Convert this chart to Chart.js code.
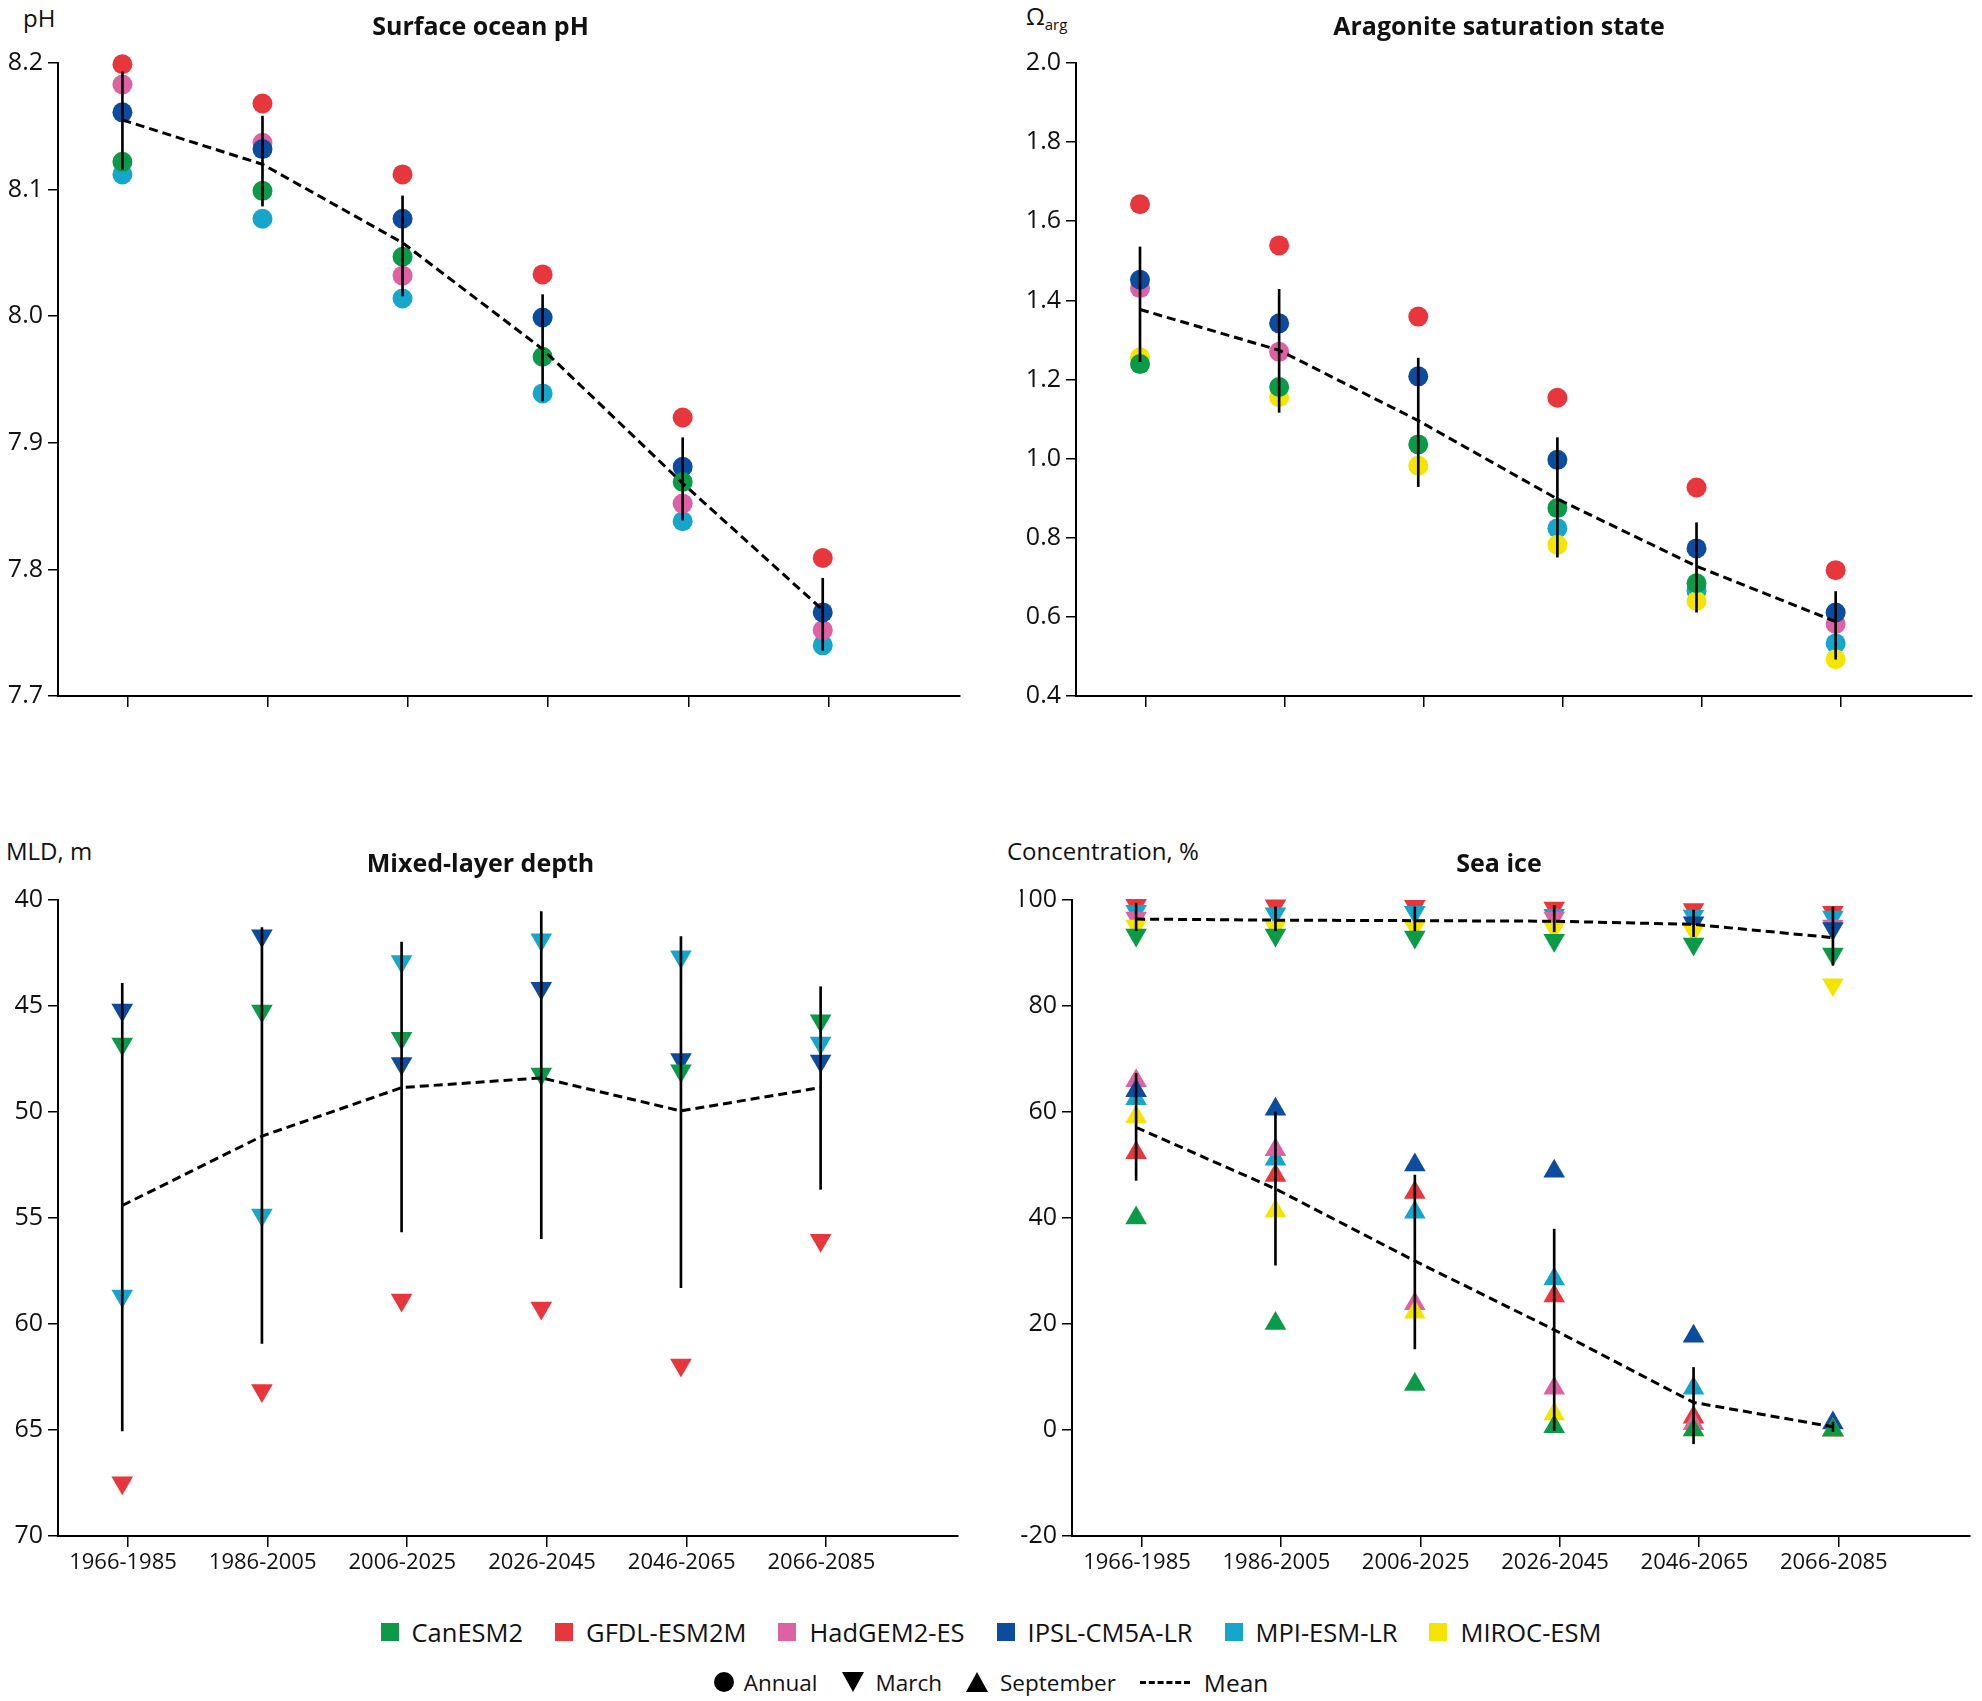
<!DOCTYPE html>
<html lang="en">
<head>
    <meta charset="UTF-8">
    <title>Ocean acidification, mixed layer and sea ice</title>
    <script src="https://cdn.jsdelivr.net/npm/chart.js"></script>
    <style>
        body { margin: 0; background: #fff; font-family: 'Open Sans', sans-serif; color: #111; }
        #page { position: relative; width: 1982px; height: 1701px; }
        canvas { position: absolute; }
        .unit { position: absolute; font-size: 24px; line-height: 28px; white-space: nowrap; }
        .unit sub { font-size: 15px; vertical-align: -5px; }
        .legend-row { position: absolute; left: 0; width: 1982px; display: flex; justify-content: center; align-items: center; height: 32px; }
        .legend-row .item { display: flex; align-items: center; }
        #modelLegend { font-size: 25.5px; }
        #modelLegend .item { margin: 0 16px; }
        #markerLegend { font-size: 22.5px; }
        #markerLegend .item { margin: 0 12px; }
        .sw { display: inline-block; width: 18px; height: 18px; margin-right: 13px; }
        .dot { display: inline-block; width: 20px; height: 20px; border-radius: 50%; background: #000; margin-right: 10px; }
        .tri-down { display: inline-block; width: 0; height: 0; border-left: 11px solid transparent; border-right: 11px solid transparent; border-top: 20px solid #000; margin-right: 12px; }
        .tri-up { display: inline-block; width: 0; height: 0; border-left: 11px solid transparent; border-right: 11px solid transparent; border-bottom: 20px solid #000; margin-right: 12px; }
        .dash { display: inline-block; width: 50px; border-top: 3px dashed #000; margin-right: 14px; }
        .big { font-size: 24.5px; }
    </style>
</head>
<body>
<div id="page">
    <div class="unit" style="left:23px; top:4px;">pH</div>
    <div class="unit" style="left:1026px; top:2px;">Ω<sub>arg</sub></div>
    <div class="unit" style="left:6px; top:837px;">MLD, m</div>
    <div class="unit" style="left:1007px; top:837px;">Concentration, %</div>

    <canvas id="phChart" width="970" height="716" style="left:0; top:0;"></canvas>
    <canvas id="aragChart" width="962" height="716" style="left:1020px; top:0;"></canvas>
    <canvas id="mldChart" width="970" height="756" style="left:0; top:830px;"></canvas>
    <canvas id="iceChart" width="962" height="756" style="left:1020px; top:830px;"></canvas>

    <div id="modelLegend" class="legend-row" style="top:1616px;"></div>
    <div id="markerLegend" class="legend-row" style="top:1666px;">
        <span class="item"><span class="dot"></span>Annual</span>
        <span class="item"><span class="tri-down"></span>March</span>
        <span class="item"><span class="tri-up"></span>September</span>
        <span class="item big"><span class="dash"></span>Mean</span>
    </div>
</div>

<script>
    // periods on the x axis
    const periods = ['1966-1985', '1986-2005', '2006-2025', '2026-2045', '2046-2065', '2066-2085'];
    const models = ['CanESM2', 'GFDL-ESM2M', 'HadGEM2-ES', 'IPSL-CM5A-LR', 'MPI-ESM-LR', 'MIROC-ESM'];
    const modelColors = ['#0b9a47', '#e8363d', '#de62a3', '#0b4c9f', '#16a6cc', '#f4e400'];
    const modelLayer = [1, 6, 4, 3, 5, 2]; // higher = drawn further back

    // surface ocean pH (annual), one row per model, null = not shown
    const phValues = [
        [8.122, 8.099, 8.047, 7.968, 7.869, null],
        [8.199, 8.168, 8.112, 8.033, 7.920, 7.809],
        [8.183, 8.137, 8.032, null, 7.852, 7.752],
        [8.161, 8.132, 8.077, 7.999, 7.881, 7.766],
        [8.112, 8.077, 8.014, 7.939, 7.838, 7.740],
        [null, null, null, null, null, null]
    ];
    const phMean = [8.155, 8.120, 8.058, 7.974, 7.868, 7.768];
    const phLow = [8.116, 8.087, 8.016, 7.933, 7.839, 7.736];
    const phHigh = [8.193, 8.158, 8.095, 8.017, 7.904, 7.793];

    // aragonite saturation state (annual)
    const aragValues = [
        [1.239, 1.181, 1.036, 0.875, 0.685, null],
        [1.643, 1.539, 1.359, 1.154, 0.927, 0.718],
        [1.431, 1.270, null, null, null, 0.582],
        [1.452, 1.342, 1.208, 0.997, 0.773, 0.611],
        [null, null, null, 0.824, 0.666, 0.533],
        [1.256, 1.155, 0.982, 0.782, 0.640, 0.493]
    ];
    const aragMean = [1.377, 1.274, 1.096, 0.898, 0.728, 0.588];
    const aragLow = [1.245, 1.117, 0.929, 0.751, 0.612, 0.493];
    const aragHigh = [1.535, 1.428, 1.254, 1.053, 0.838, 0.664];

    // mixed-layer depth (March), m
    const mldValues = [
        [46.79, 45.24, 46.52, 48.21, 48.05, 45.69],
        [67.49, 63.14, 58.87, 59.25, 61.93, 56.05],
        [null, null, null, null, null, null],
        [45.19, 41.69, 47.71, 44.16, 47.52, 47.59],
        [58.68, 54.86, 42.90, 41.88, 42.68, 46.75],
        [null, null, null, null, null, null]
    ];
    const mldMean = [54.41, 51.14, 48.85, 48.39, 49.95, 48.85];
    const mldLow = [43.93, 41.30, 41.99, 40.55, 41.72, 44.09];
    const mldHigh = [65.04, 60.92, 55.66, 55.98, 58.29, 53.65];

    // sea ice concentration, March, %
    const iceMarchValues = [
        [93.4, 93.4, 93.0, 92.4, 91.7, 89.8],
        [99.0, 98.9, 98.8, 98.5, 98.2, 97.7],
        [96.6, null, null, 96.6, null, 95.1],
        [null, null, null, null, 95.7, 94.6],
        [97.9, 97.4, 97.7, 97.1, 97.0, 96.8],
        [95.1, 94.8, 94.8, 94.6, 94.1, 84.0]
    ];
    const iceMarchMean = [96.4, 96.2, 96.1, 96.0, 95.4, 92.9];
    const iceMarchLow = [94.2, 94.2, 94.2, 94.0, 93.1, 87.7];
    const iceMarchHigh = [99.4, 98.7, 98.7, 99.0, 98.1, 98.7];

    // sea ice concentration, September, %
    const iceSeptValues = [
        [40.0, 20.1, 8.6, 0.6, 0, 0],
        [52.3, 48.0, 44.8, 25.3, 2.4, 0],
        [65.9, 52.9, 23.8, 7.9, 1.2, 0],
        [64.0, 60.5, 50.0, 48.8, 17.7, 1.3],
        [62.5, 51.1, 41.1, 28.5, 7.9, 0],
        [59.1, 41.3, 22.2, 3.0, 0, 0]
    ];
    const iceSeptMean = [57.1, 45.5, 31.9, 18.9, 5.2, 0.6];
    const iceSeptLow = [47.1, 31.1, 15.3, -0.1, -2.6, -0.3];
    const iceSeptHigh = [67.3, 60.0, 48.1, 37.9, 11.8, 1.5];

    Chart.defaults.font.family = "'Open Sans', sans-serif";
    Chart.defaults.color = '#111';

    // tick marks sit between periods, a bit closer to the left of each slot
    const xMin = -0.46;
    const xMax = 5.98;
    const xBounds = periods.map((p, i) => i + xMin).concat(periods.length + xMin);

    function toPoints(values) {
        return values.map((v, i) => v == null ? null : { x: i, y: v }).filter(p => p);
    }

    function markerSets(rows, style, rotation, radius) {
        return rows.map((row, m) => ({
            type: 'scatter',
            label: models[m],
            data: toPoints(row),
            pointStyle: style,
            rotation: rotation,
            pointRadius: radius,
            backgroundColor: modelColors[m],
            borderWidth: 0,
            clip: false,
            order: modelLayer[m]
        }));
    }

    function meanLine(mean) {
        return {
            type: 'line',
            data: toPoints(mean),
            borderColor: '#000',
            borderWidth: 3,
            borderDash: [9, 5],
            pointRadius: 0,
            fill: false,
            tension: 0,
            clip: false,
            order: 0
        };
    }

    function errorBars(low, high) {
        return {
            type: 'bar',
            data: low.map((l, i) => ({ x: i, y: [l, high[i]] })),
            backgroundColor: '#000',
            borderWidth: 0,
            barThickness: 2,
            grouped: false,
            clip: false,
            order: 0
        };
    }

    function xAxis(showLabels, height) {
        return {
            type: 'linear',
            min: xMin,
            max: xMax,
            offset: false,
            afterBuildTicks: s => { s.ticks = xBounds.map(v => ({ value: v })); },
            afterFit: s => { s.height = height; s.paddingLeft = 0; s.paddingRight = 0; },
            grid: { drawOnChartArea: false, tickLength: 11, color: '#000', lineWidth: 1.5 },
            border: { color: '#000', width: 2 },
            ticks: {
                autoSkip: false,
                maxRotation: 0,
                labelOffset: 65,
                padding: 3,
                font: { size: 22 },
                callback: v => showLabels ? (periods[Math.round(v - xMin)] || '') : ''
            }
        };
    }

    function yAxis(min, max, step, decimals, width, reverse) {
        return {
            type: 'linear',
            min: min,
            max: max,
            reverse: reverse,
            afterFit: s => { s.width = width; },
            grid: { drawOnChartArea: false, tickLength: 10, color: '#000', lineWidth: 1.5 },
            border: { color: '#000', width: 2 },
            ticks: {
                stepSize: step,
                padding: 5,
                font: { size: 25 },
                callback: v => v.toFixed(decimals)
            }
        };
    }

    function drawPanel(canvasId, title, datasets, x, y, padding) {
        new Chart(document.getElementById(canvasId), {
            type: 'scatter',
            data: { datasets: datasets },
            options: {
                responsive: false,
                animation: false,
                layout: { padding: { left: padding.left, right: padding.right, top: 0, bottom: 0 } },
                plugins: {
                    legend: { display: false },
                    tooltip: { enabled: false },
                    title: {
                        display: true,
                        text: title,
                        font: { size: 25, weight: 'bold' },
                        color: '#111',
                        padding: { top: padding.titleTop, bottom: padding.titleBottom }
                    }
                },
                scales: { x: x, y: y }
            }
        });
    }

    drawPanel('phChart', 'Surface ocean pH',
        [errorBars(phLow, phHigh), meanLine(phMean)].concat(markerSets(phValues, 'circle', 0, 10)),
        xAxis(false, 20), yAxis(7.7, 8.2, 0.1, 1, 58, false),
        { left: 0, right: 9, titleTop: 12.5, titleBottom: 20.5 });

    drawPanel('aragChart', 'Aragonite saturation state',
        [errorBars(aragLow, aragHigh), meanLine(aragMean)].concat(markerSets(aragValues, 'circle', 0, 10)),
        xAxis(false, 20), yAxis(0.4, 2.0, 0.2, 1, 56, false),
        { left: 0, right: 4, titleTop: 12.5, titleBottom: 20.5 });

    drawPanel('mldChart', 'Mixed-layer depth',
        [errorBars(mldLow, mldHigh), meanLine(mldMean)].concat(markerSets(mldValues, 'triangle', 180, 12.5)),
        xAxis(true, 50), yAxis(40, 70, 5, 0, 58, true),
        { left: 0, right: 9, titleTop: 20, titleBottom: 20 });

    drawPanel('iceChart', 'Sea ice',
        [errorBars(iceMarchLow, iceMarchHigh), errorBars(iceSeptLow, iceSeptHigh),
         meanLine(iceMarchMean), meanLine(iceSeptMean)]
            .concat(markerSets(iceMarchValues, 'triangle', 180, 12.5))
            .concat(markerSets(iceSeptValues, 'triangle', 0, 12.5)),
        xAxis(true, 50), yAxis(-20, 100, 20, 0, 52, false),
        { left: 0, right: 4, titleTop: 20, titleBottom: 20 });

    // model colour legend
    const legendBox = document.getElementById('modelLegend');
    models.forEach((name, m) => {
        const item = document.createElement('span');
        item.className = 'item';
        item.innerHTML = '<span class="sw" style="background:' + modelColors[m] + '"></span>' + name;
        legendBox.appendChild(item);
    });
</script>
</body>
</html>
